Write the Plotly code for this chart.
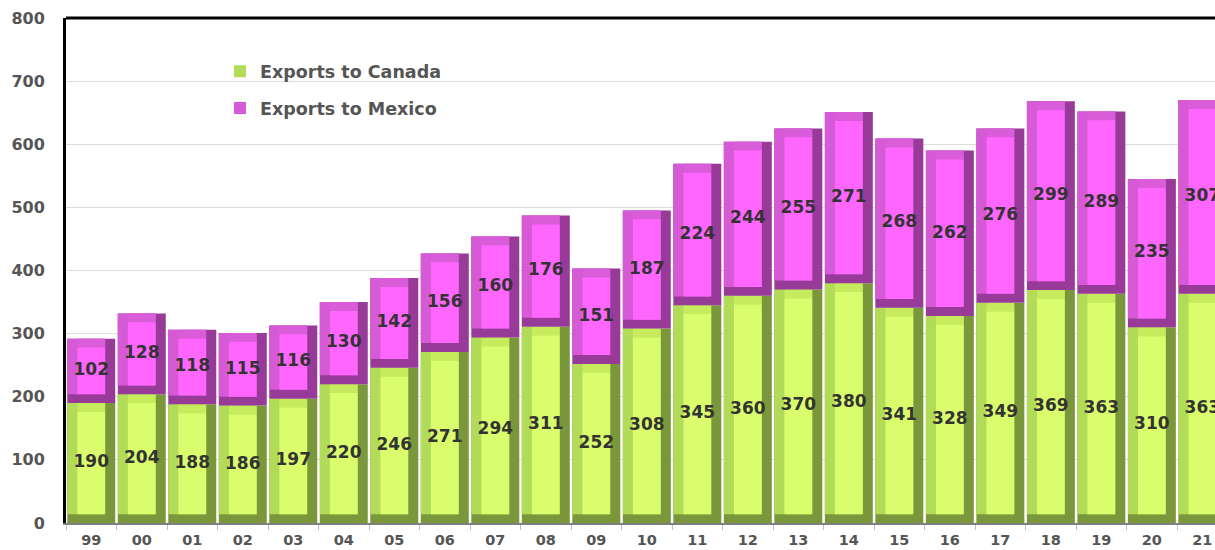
import plotly.graph_objects as go

years = ["99", "00", "01", "02", "03", "04", "05", "06", "07", "08", "09", "10",
         "11", "12", "13", "14", "15", "16", "17", "18", "19", "20", "21"]
canada = [190, 204, 188, 186, 197, 220, 246, 271, 294, 311, 252, 308,
          345, 360, 370, 380, 341, 328, 349, 369, 363, 310, 363]
mexico = [102, 128, 118, 115, 116, 130, 142, 156, 160, 176, 151, 187,
          224, 244, 255, 271, 268, 262, 276, 299, 289, 235, 307]

FONT = "DejaVu Sans"
BAR_W = 0.95      # bar width in category units
BEV_X = 0.2       # bevel width (category units)
BEV_Y = 14        # bevel height (value units)

series = [
    dict(name="Exports to Canada", values=canada,
         base=[0] * len(canada),
         dark="#7b973b", left="#b2dc58", top="#c6ec5e", face="#d9fd6c"),
    dict(name="Exports to Mexico", values=mexico,
         base=canada,
         dark="#983a98", left="#d65ad6", top="#d95cd9", face="#fe66fe"),
]

fig = go.Figure()

for s in series:
    vals, base = s["values"], s["base"]
    # right face / bottom bevel: full-size darker block
    fig.add_trace(go.Bar(
        x=years, y=vals, base=base, width=BAR_W,
        marker=dict(color=s["dark"], line=dict(width=0)),
        showlegend=False, hoverinfo="skip"))
    # left face
    fig.add_trace(go.Bar(
        x=years, y=[v - BEV_Y for v in vals], base=[b + BEV_Y for b in base],
        width=BAR_W - BEV_X, offset=-BAR_W / 2,
        marker=dict(color=s["left"], line=dict(width=0)),
        name=s["name"], legendgroup=s["name"], showlegend=True,
        hoverinfo="skip"))
    # top bevel
    fig.add_trace(go.Bar(
        x=years, y=[BEV_Y] * len(vals),
        base=[b + v - BEV_Y for b, v in zip(base, vals)],
        width=BAR_W - 2 * BEV_X, offset=-BAR_W / 2 + BEV_X,
        marker=dict(color=s["top"], line=dict(width=0)),
        showlegend=False, hoverinfo="skip"))
    # front face
    fig.add_trace(go.Bar(
        x=years, y=[v - 2 * BEV_Y for v in vals], base=[b + BEV_Y for b in base],
        width=BAR_W - 2 * BEV_X, offset=-BAR_W / 2 + BEV_X,
        marker=dict(color=s["face"], line=dict(width=0)),
        showlegend=False,
        hovertemplate=s["name"] + " %{x}: %{customdata}<extra></extra>",
        customdata=vals))

# value labels centred in each segment
for s in series:
    vals, base = s["values"], s["base"]
    fig.add_trace(go.Scatter(
        x=years, y=[b + v / 2 for b, v in zip(base, vals)],
        mode="text", text=[str(v) for v in vals],
        textfont=dict(family=FONT, size=17, color="#333333", weight="bold"),
        showlegend=False, hoverinfo="skip"))

fig.update_layout(
    width=1215, height=550,
    margin=dict(l=66, r=0, t=18, b=27),
    paper_bgcolor="white", plot_bgcolor="white",
    barmode="overlay",
    showlegend=True,
    legend=dict(
        x=0.134, y=0.93, xanchor="left", yanchor="top",
        bgcolor="rgba(0,0,0,0)", tracegroupgap=11,
        font=dict(family=FONT, size=17.5, color="#555555", weight="bold"),
        itemclick=False, itemdoubleclick=False),
    xaxis=dict(
        type="category", range=[-0.5, 22.25], automargin=False,
        showline=True, linecolor="#7f7f7f", linewidth=2,
        ticks="outside", tickson="boundaries", ticklen=5, tickcolor="#bfbfbf",
        showgrid=False,
        tickfont=dict(family=FONT, size=14.5, color="#555555", weight="bold"),
        ticklabelstandoff=3),
    yaxis=dict(
        range=[0, 800], dtick=100, automargin=False,
        showline=True, linecolor="#000000", linewidth=3,
        showgrid=True, gridcolor="#dcdcdc", gridwidth=1,
        zeroline=False, ticks="",
        tickfont=dict(family=FONT, size=16, color="#555555", weight="bold"),
        ticklabelstandoff=15),
    shapes=[dict(type="line", xref="paper", yref="paper",
                 x0=0, x1=1, y0=1, y1=1,
                 line=dict(color="#000000", width=3))],
)

fig.write_html("out.html")
